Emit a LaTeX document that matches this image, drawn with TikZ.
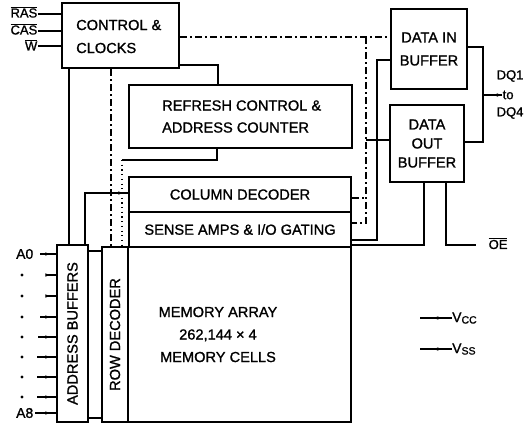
\documentclass[tikz,border=0pt]{standalone}
\usepackage{fontspec}
\setmainfont{Liberation Sans}[FakeBold=1.2]
\usetikzlibrary{arrows.meta,decorations.markings}
\newcommand\ovl[1]{$\overline{\hbox{#1}}$}
\begin{document}
\begin{tikzpicture}[x=1bp,y=-1bp,
  box/.style={draw, line width=2.4bp, inner sep=0pt},
  txt/.style={inner sep=0pt, font=\fontsize{14.6bp}{23bp}\selectfont, align=center},
  lbl/.style={inner sep=0.5bp, font=\fontsize{13bp}{15bp}\selectfont},
  wire/.style={line width=1.1bp},
  ctlwire/.style={wire, dash pattern=on 7bp off 3bp on 2bp off 3bp},
  dotwire/.style={wire, dash pattern=on 1.2bp off 3.5bp},
  arrat/.style={postaction={decorate}, decoration={markings, mark=at position #1 with {\arrow{Latex[length=5.5bp,width=3.6bp]}}}},
  dotnode/.style={circle, fill, inner sep=0pt, minimum size=3.2bp}
]
\useasboundingbox (0,0) rectangle (528,426);

% boxes
\node[box, minimum width=117bp, minimum height=65bp] (ctl) at (120.5,35.5) {};
\node[txt, anchor=west, align=left] (ctltxt) at (76,36.5) {CONTROL \&\\CLOCKS};
\node[box, minimum width=223bp, minimum height=63bp] (ref) at (240.5,116.5) {};
\node[txt, anchor=west, align=left, font=\fontsize{14.6bp}{22bp}\selectfont] (reftxt) at (162,116.5) {REFRESH CONTROL \&\\ADDRESS COUNTER};
\node[box, txt, minimum width=76bp, minimum height=80bp] (din) at (429,49) {DATA IN\\BUFFER};
\node[box, txt, minimum width=74bp, minimum height=77bp, font=\fontsize{14.6bp}{19bp}\selectfont] (dout) at (427,143.5) {DATA\\OUT\\BUFFER};
\node[box, txt, minimum width=222bp, minimum height=35bp] (col) at (240,194.5) {COLUMN DECODER};
\node[box, txt, minimum width=222bp, minimum height=35bp] (sense) at (240,229.5) {SENSE AMPS \& I/O GATING};
\node[box, minimum width=223bp, minimum height=175bp] (mem) at (239.5,334.5) {};
\node[txt, font=\fontsize{14.6bp}{22.5bp}\selectfont] (memtxt) at (218,334.5) {MEMORY ARRAY\\262,144 × 4\\MEMORY CELLS};
\node[box, minimum width=31bp, minimum height=177bp] (abuf) at (72.5,333.5) {};
\node[txt, rotate=90] (abuftxt) at (abuf.center) {ADDRESS BUFFERS};
\node[box, minimum width=26bp, minimum height=175bp] (rdec) at (115,334.5) {};
\node[txt, rotate=90] (rdectxt) at (rdec.center) {ROW DECODER};

% control inputs
\node[lbl, anchor=east] (ras) at (38,12) {\ovl{RAS}};
\node[lbl, anchor=east] (cas) at (38,29) {\ovl{CAS}};
\node[lbl, anchor=east] (w) at (38,45) {\ovl{W}};
\draw[wire] (ras.east|-0,14) -- (ctl.west|-0,14);
\draw[wire] (cas.east|-0,31) -- (ctl.west|-0,31);
\draw[wire] (w.east|-0,46) -- (ctl.west|-0,46);

% address inputs
\node[lbl, anchor=east, font=\fontsize{14bp}{16bp}\selectfont] (a0) at (34,254) {A0};
\node[lbl, anchor=east, font=\fontsize{14bp}{16bp}\selectfont] (a8) at (34,413) {A8};
\foreach \yy [count=\i] in {275,296,317,337,357,377,397}
  \node[dotnode] (d\i) at (22,\yy) {};
\foreach \yy/\xx in {254/40,275/48,296/46,317/40,337/38,357/37,377/37,397/37,413/35}
  \draw[wire, arrat=-5bp] (\xx,\yy) -- (abuf.west|-0,\yy);

% control / refresh wiring
\draw[ctlwire] (ctl.east|-0,37) -- (din.west|-0,37);
\draw[wire] (ctl.east|-0,65) -| (ref.north-|218,0);
\draw[wire] (ctl.south-|69,0) -- (abuf.north-|69,0);
\draw[ctlwire] (ctl.south-|111,0) -- (rdec.north-|111,0);
\coordinate (rbend) at (122,160);
\draw[wire] (ref.south-|217,0) |- (rbend);
\draw[dotwire] (rbend) -- (rdec.north-|122,0);
\draw[wire, arrat=-4bp] (abuf.north-|85,0) |- (col.west|-0,193);
\draw[wire] (abuf.east|-0,251) -- (rdec.west|-0,251);
\draw[wire] (abuf.east|-0,418) -- (rdec.west|-0,418);

% right side wiring
\coordinate (cv) at (366,37);
\draw[ctlwire] (cv) -- (366,223) -- (sense.east|-0,223);
\draw[ctlwire] (col.east|-0,198) -- (366,198);
\draw[wire] (366,140) -- (dout.west|-0,140);
\draw[wire] (din.west|-0,60) -| (377,240) -- (sense.east|-0,240);
\draw[wire] (dout.south-|424,0) |- (sense.east|-0,245);
\coordinate (oeend) at (476,245);
\draw[wire] (dout.south-|446,0) |- (oeend);
\node[lbl, anchor=west] (oe) at (488,243.5) {\ovl{OE}};

% DQ
\draw[wire] (din.east|-0,47) -| (483,142) -- (dout.east|-0,142);
\node[lbl, anchor=west] (dq1) at (496,76) {DQ1};
\node[lbl, anchor=west] (dqto) at (502,95) {to};
\node[lbl, anchor=west] (dq4) at (496,113) {DQ4};
\draw[wire, arrat=0.5] (dqto.west) -- (483,95);

% power
\node[lbl, anchor=west, inner sep=0pt, font=\fontsize{14bp}{16bp}\selectfont] (vcc) at (452,318) {V\raisebox{-1.5bp}{\fontsize{10.5bp}{10bp}\selectfont CC}};
\node[lbl, anchor=west, inner sep=0pt, font=\fontsize{14bp}{16bp}\selectfont] (vss) at (452,349) {V\raisebox{-1.5bp}{\fontsize{10.5bp}{10bp}\selectfont SS}};
\draw[wire, arrat=0.6] (vcc.west) -- (420,318);
\draw[wire, arrat=0.6] (vss.west) -- (420,349);
\end{tikzpicture}
\end{document}
